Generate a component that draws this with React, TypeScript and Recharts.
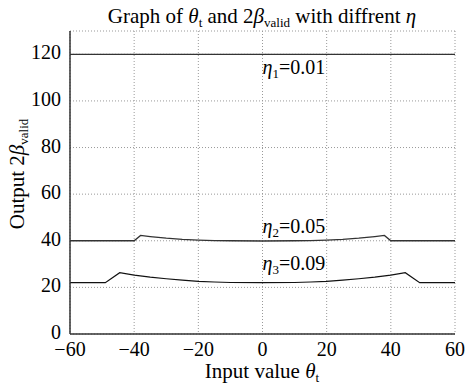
import React from 'react';
import { LineChart, Line, XAxis, YAxis, CartesianGrid, ReferenceDot, Customized } from 'recharts';

const xTicks = [-60, -40, -20, 0, 20, 40, 60];
const yTicks = [0, 20, 40, 60, 80, 100, 120];

const eta1X = [-60, 60];
const eta1Y = [120, 120];

const eta2X = [-60, -40, -38, -35, -30, -25, -20, -15, -10, 0, 10, 15, 20, 25, 30, 35, 38, 40, 60];
const eta2Y = [40, 40, 42.3, 41.8, 41.1, 40.6, 40.3, 40.1, 40.0, 39.9, 40.0, 40.1, 40.3, 40.6, 41.1, 41.8, 42.3, 40, 40];

const eta3X = [-60, -49, -44.5, -40, -35, -30, -25, -20, -15, -10, 0, 10, 15, 20, 25, 30, 35, 40, 44.5, 49, 60];
const eta3Y = [22, 22, 26.3, 25.3, 24.4, 23.7, 23.1, 22.6, 22.3, 22.1, 22.0, 22.1, 22.3, 22.6, 23.1, 23.7, 24.4, 25.3, 26.3, 22, 22];

const labels = [
  { sub: '1', val: '=0.01', y: 111.4 },
  { sub: '2', val: '=0.05', y: 43.4 },
  { sub: '3', val: '=0.09', y: 27.5 },
];

const toRows = (xs: number[], ys: number[]) => xs.map((x, i) => ({ x, y: ys[i] }));

const FONT = '"Liberation Serif", "Times New Roman", Times, serif';
const serif = { fontFamily: FONT };
const fmt = (v: number) => (v < 0 ? '\u2212' + Math.abs(v) : String(v));

const XTick = (p: any) => (
  <text x={p.x} y={p.y + 14} textAnchor="middle" fontFamily={FONT} style={serif} fontSize={20} fill="#000">
    {fmt(p.payload.value)}
  </text>
);

const YTick = (p: any) => (
  <text x={p.x - 1} y={p.y + 5} textAnchor="end" fontFamily={FONT} style={serif} fontSize={20} fill="#000">
    {fmt(p.payload.value)}
  </text>
);

const Title = () => (
  <text x={262} y={23} textAnchor="middle" fontFamily={FONT} style={serif} fontSize={21} fill="#000">
    Graph of <tspan fontStyle="italic">θ</tspan>
    <tspan fontSize={13} dy={4}>t</tspan>
    <tspan dy={-4}> and 2</tspan>
    <tspan fontStyle="italic">β</tspan>
    <tspan fontSize={13} dy={4}>valid</tspan>
    <tspan dy={-4}> with diffrent </tspan>
    <tspan fontStyle="italic">η</tspan>
  </text>
);

export default function App() {
  return (
    <div style={{ position: 'absolute', left: 0, top: 0, background: '#fff', fontFamily: FONT }}>
      <LineChart width={468} height={385} margin={{ top: 31, right: 13, bottom: 0, left: 0 }}>
        <CartesianGrid xAxisId="b" yAxisId="l" stroke="#999" strokeDasharray="1 2" vertical horizontal />
        <XAxis
          xAxisId="b"
          type="number"
          dataKey="x"
          domain={[-60, 60]}
          ticks={xTicks}
          height={51}
          tickLine={false}
          axisLine={{ stroke: '#333', strokeWidth: 1.5 }}
          tick={<XTick />}
          allowDataOverflow
          label={{
            content: () => (
              <text x={262} y={378} textAnchor="middle" fontFamily={FONT} style={serif} fontSize={21} fill="#000">
                Input value <tspan fontStyle="italic">θ</tspan>
                <tspan fontSize={13} dy={4}>t</tspan>
              </text>
            ),
          }}
        />
        <XAxis
          xAxisId="t"
          orientation="top"
          type="number"
          dataKey="x"
          domain={[-60, 60]}
          ticks={xTicks}
          height={0}
          tick={false}
          tickLine={false}
          axisLine={{ stroke: '#333', strokeWidth: 1.5 }}
        />
        <YAxis
          yAxisId="l"
          type="number"
          domain={[0, 130]}
          ticks={yTicks}
          width={70}
          tickLine={false}
          axisLine={{ stroke: '#333', strokeWidth: 1.5 }}
          tick={<YTick />}
          label={{
            content: () => (
              <text
                x={0}
                y={0}
                transform="translate(24,174) rotate(-90)"
                textAnchor="middle"
                fontFamily={FONT}
                style={serif}
                fontSize={21}
                fill="#000"
              >
                Output 2<tspan fontStyle="italic">β</tspan>
                <tspan fontSize={13} dy={4}>valid</tspan>
              </text>
            ),
          }}
        />
        <YAxis
          yAxisId="r"
          orientation="right"
          type="number"
          domain={[0, 130]}
          ticks={yTicks}
          width={0}
          tick={false}
          tickLine={false}
          axisLine={{ stroke: '#333', strokeWidth: 1.5 }}
        />
        <Line xAxisId="b" yAxisId="l" data={toRows(eta1X, eta1Y)} dataKey="y" type="linear" stroke="#333" strokeWidth={1.3} dot={false} isAnimationActive={false} />
        <Line xAxisId="b" yAxisId="l" data={toRows(eta2X, eta2Y)} dataKey="y" type="linear" stroke="#333" strokeWidth={1.3} dot={false} isAnimationActive={false} />
        <Line xAxisId="b" yAxisId="l" data={toRows(eta3X, eta3Y)} dataKey="y" type="linear" stroke="#111" strokeWidth={1.2} dot={false} isAnimationActive={false} />
        {labels.map((l) => (
          <ReferenceDot
            key={l.sub}
            xAxisId="b"
            yAxisId="l"
            x={0}
            y={l.y}
            r={0}
            isFront
            shape={(p: any) => (
              <text x={p.cx} y={p.cy} fontFamily={FONT} style={serif} fontSize={20} fill="#000">
                <tspan fontStyle="italic">η</tspan>
                <tspan fontSize={13} dy={4}>{l.sub}</tspan>
                <tspan dy={-4}>{l.val}</tspan>
              </text>
            )}
          />
        ))}
        <Customized component={Title} />
      </LineChart>
    </div>
  );
}
